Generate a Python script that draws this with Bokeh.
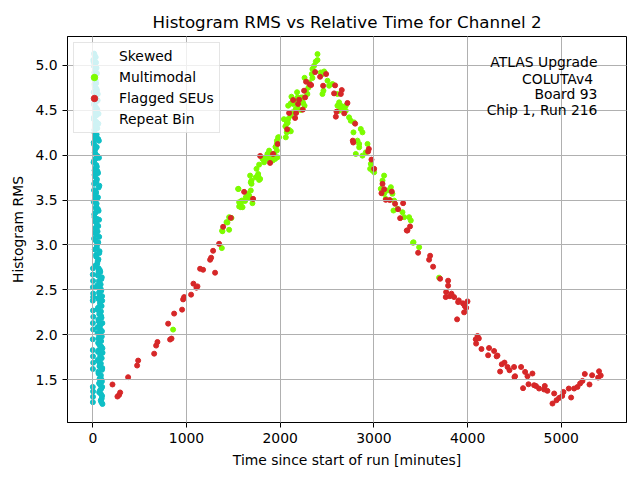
from bokeh.plotting import figure
from bokeh.models import Range1d, FixedTicker, Label, ColumnDataSource, PrintfTickFormatter
from bokeh.embed import file_html
from bokeh.resources import INLINE

# --- data (time in minutes, histogram RMS) ---

# unlabelled points in the first ~100 minutes (cyan column)
cyan_upper_t = [14, 31, 8, 22, 40, 17, 27, 11, 36, 20, 45, 9, 29, 52, 16, 34, 24, 61, 12, 38,
                26, 48, 18, 33, 57, 10, 42, 23, 30, 66, 15, 37, 25, 50, 19, 44, 28, 70, 13, 35,
                55, 21, 41, 32, 62, 16, 46, 27, 58, 39, 24, 68, 30, 49, 43, 72, 35, 60, 47, 64]
cyan_upper_v = [5.13, 5.09, 5.04, 5.01, 4.97, 4.92, 4.89, 4.85, 4.80, 4.77, 4.72, 4.70, 4.65, 4.61,
                4.58, 4.53, 4.49, 4.46, 4.42, 4.37, 4.34, 4.30, 4.25, 4.21, 4.18, 4.14, 4.09, 4.06,
                4.01, 3.97, 3.94, 3.89, 3.85, 3.82, 3.78, 3.73, 3.70, 3.66, 3.61, 3.58, 3.53, 3.50,
                3.46, 3.41, 3.38, 3.34, 3.29, 3.26, 3.21, 3.17, 3.14, 3.09, 3.05, 3.02, 2.97, 2.93,
                2.89, 2.84, 2.79, 2.73]
cyan_mid_t = [20, 6, 35, 12, 27, 44, 9, 31, 18, 39, 25, 53, 7, 33, 14, 47, 22, 36, 11, 59,
              28, 17, 41, 24, 65, 13, 34, 21, 50, 30, 8, 43, 19, 56, 26, 38, 15, 63, 32, 23,
              45, 10, 37, 54, 29, 18, 67, 40, 26, 51, 33, 14, 58, 44, 21, 69, 36, 52, 28, 62]
cyan_mid_v = [5.11, 5.06, 5.03, 4.99, 4.94, 4.91, 4.87, 4.83, 4.79, 4.74, 4.71, 4.68, 4.63, 4.59,
              4.56, 4.51, 4.47, 4.44, 4.40, 4.35, 4.32, 4.28, 4.23, 4.19, 4.16, 4.12, 4.08, 4.03,
              3.99, 3.96, 3.92, 3.87, 3.83, 3.80, 3.76, 3.71, 3.68, 3.64, 3.59, 3.55, 3.52, 3.48,
              3.43, 3.40, 3.36, 3.31, 3.28, 3.24, 3.19, 3.15, 3.12, 3.07, 3.03, 3.00, 2.95, 2.91,
              2.87, 2.82, 2.77, 2.71]
cyan_lower_t = [62, 80, 55, 91, 70, 48, 85, 66, 99, 58, 77, 94, 52, 73, 88, 60, 102, 68, 83, 50,
                96, 75, 57, 90, 64, 104, 79, 53, 86, 71, 98, 61, 82, 93, 67, 100, 76, 87, 95, 103]
cyan_lower_v = [2.74, 2.70, 2.66, 2.62, 2.58, 2.55, 2.51, 2.47, 2.43, 2.40, 2.36, 2.32, 2.28, 2.25,
                2.21, 2.17, 2.13, 2.10, 2.06, 2.02, 1.98, 1.95, 1.91, 1.87, 1.83, 1.80, 1.76, 1.72,
                1.68, 1.65, 1.61, 1.57, 1.53, 1.50, 1.46, 1.42, 1.38, 1.34, 1.29, 1.23]
cyan_lower2_t = [75, 58, 96, 66, 84, 51, 90, 72, 61, 100, 79, 55, 87, 69, 93, 63, 81, 49, 98, 74,
                 59, 89, 70, 103, 56, 83, 95, 65, 77, 101, 60, 86, 72, 97, 81, 90, 68, 99, 85, 92]
cyan_lower2_v = [2.72, 2.68, 2.64, 2.60, 2.56, 2.53, 2.49, 2.45, 2.41, 2.38, 2.34, 2.30, 2.26, 2.23,
                 2.19, 2.15, 2.11, 2.08, 2.04, 2.00, 1.96, 1.93, 1.89, 1.85, 1.81, 1.78, 1.74, 1.70,
                 1.66, 1.63, 1.59, 1.55, 1.51, 1.48, 1.44, 1.40, 1.36, 1.32, 1.27, 1.25]
cyan_start_t = [2, 0, 3, 1, 4, 0, 2, 5, 1, 3, 0, 2, 4, 1, 0, 3, 2, 1, 4, 0]
cyan_start_v = [2.74, 2.67, 2.60, 2.53, 2.46, 2.38, 2.27, 2.20, 2.13, 2.06, 1.83, 1.76, 1.69, 1.62,
                1.42, 1.37, 1.31, 1.25, 2.42, 1.95]

# skewed / repeat bin: no points in this run
skewed_t = []
skewed_v = []
repeat_t = []
repeat_v = []

# multimodal
multi_t = [857, 1377, 1380, 1455, 1437, 1455, 1562, 1384, 1427, 1480, 1580, 1562, 1704, 1555,
           1668, 1650, 1625, 1686, 1679, 1740, 1775, 1765, 1747, 1775, 1811, 1835, 1864, 1882,
           1880, 1900, 1920, 1988, 1950, 1965, 2060, 2113, 2055, 2040, 2080, 2138, 2185, 2220,
           2245, 2260, 1551, 1590, 1580, 1598, 1633, 1651, 1668, 1686, 1694, 1694, 1764, 1786,
           1828, 1846, 1871, 1935, 1964, 1971, 1946, 1978, 1964, 1953, 2070, 2095, 2070, 2085,
           2113, 2131, 2085, 2113, 2149, 2238, 2166, 2185, 2220, 2273, 2302, 2308, 2344, 2337,
           2344, 2362, 2380, 2398, 2398, 2433, 2451, 2469, 2505, 2451, 2462, 2522, 2558, 2611,
           2629, 2647, 2682, 2700, 2735, 2753, 2789, 2782, 2860, 2878, 2825, 2843, 2807, 2878,
           2914, 2932, 2843, 2967, 2985, 3003, 2960, 3092, 3074, 3109, 3127, 3145, 3181, 3198,
           3216, 3209, 3252, 3305, 3323, 3376, 3394, 3423, 3483, 3418, 3696, 3109, 2120, 2180,
           2230, 2290, 2260, 2611, 2647, 2629, 2700]
multi_v = [2.058, 2.965, 3.158, 3.169, 3.250, 3.309, 3.428, 3.153, 3.254, 3.300, 3.420, 3.476,
           3.465, 3.624, 3.550, 3.520, 3.490, 3.698, 3.772, 3.753, 3.724, 3.790, 3.847, 3.894,
           3.958, 3.960, 4.013, 4.050, 3.950, 3.980, 3.940, 4.198, 4.090, 4.160, 4.198, 4.265,
           4.320, 4.400, 4.360, 4.570, 4.640, 4.640, 4.580, 4.860, 3.624, 3.494, 3.458, 3.420,
           3.531, 3.569, 3.531, 3.606, 3.680, 3.717, 3.772, 3.735, 3.920, 3.976, 4.013, 4.013,
           4.050, 3.976, 3.958, 4.198, 4.124, 4.094, 4.253, 4.280, 4.353, 4.402, 4.439, 4.476,
           4.550, 4.576, 4.598, 4.642, 4.513, 4.531, 4.502, 4.717, 4.753, 4.809, 4.858, 4.902,
           4.958, 4.994, 5.042, 5.058, 5.124, 4.920, 4.902, 4.931, 4.828, 4.680, 4.717, 4.772,
           4.791, 4.680, 4.587, 4.550, 4.513, 4.550, 4.420, 4.383, 4.364, 4.253, 4.291, 4.253,
           4.161, 4.087, 4.013, 3.994, 4.031, 4.124, 4.124, 3.902, 3.828, 3.809, 3.847, 3.717,
           3.625, 3.569, 3.513, 3.606, 3.643, 3.569, 3.494, 3.383, 3.402, 3.364, 3.309, 3.309,
           3.272, 3.030, 2.975, 3.024, 2.636, 3.772, 4.650, 4.700, 4.600, 4.680, 4.550, 4.550,
           4.531, 4.494, 4.494]

# flagged SEUs
seu_t = [210, 263, 280, 292, 377, 473, 484, 655, 676, 690, 825, 840, 804, 868, 953, 964, 975,
         1049, 1074, 1106, 1117, 1145, 1177, 1305, 1252, 1263, 1284, 1348, 1391, 1473,
         1615, 1711, 1892, 1786, 1924, 1974, 2074, 2159, 2095, 2170, 2241, 2138, 2191, 2202,
         2266, 2255, 2276, 2316, 2373, 2426, 2490, 2458, 2330,
         2586, 2575, 2657, 2647, 2718, 2601, 2594, 2683, 2800, 2775, 2780, 2946, 2938, 2974,
         3003, 3092, 3081, 3110, 3191, 3127, 3170, 3226, 3258, 3312, 3280, 3358, 3386, 3351,
         3472, 3600, 3589, 3632, 3707, 3792, 3792, 3771, 3767, 3810, 3828, 3856, 3906, 3899,
         3963, 3888, 3950, 3970, 3999, 3985,
         4106, 4087, 4091, 4120, 4148, 4229, 4219, 4283, 4319, 4310, 4365, 4394, 4426, 4447,
         4496, 4347, 4507, 4500, 4571, 4614, 4639, 4692, 4650, 4592, 4710, 4730, 4763, 4824,
         4817, 4852, 4924, 4949, 4906, 4977, 5023, 5010, 5080, 5105, 5137, 5173, 5201, 5226,
         5301, 5251, 5329, 5403, 5421, 5393]
seu_v = [1.447, 1.313, 1.330, 1.358, 1.528, 1.658, 1.713, 1.790, 1.880, 1.920, 1.947, 1.958,
         2.124, 2.236, 2.280, 2.394, 2.420, 2.447, 2.569, 2.524, 2.539, 2.735, 2.724, 2.691,
         2.835, 2.858, 2.935, 3.013, 3.202, 3.302,
         3.591, 3.513, 3.913, 3.991, 4.013, 4.124, 4.287, 4.413, 4.469, 4.469, 4.506, 4.613,
         4.569, 4.617, 4.642, 4.717, 4.817, 4.787, 4.924, 4.872, 4.902, 4.772, 4.780,
         4.776, 4.687, 4.724, 4.680, 4.580, 4.483, 4.428, 4.465, 4.350, 4.161, 4.140, 4.069,
         4.039, 3.950, 3.847, 3.680, 3.576, 3.620, 3.594, 3.502, 3.500, 3.458, 3.398, 3.465,
         3.298, 3.161, 3.206, 3.161, 2.913, 2.880, 2.836, 2.758, 2.624, 2.602, 2.547, 2.476,
         2.420, 2.430, 2.458, 2.420, 2.383, 2.364, 2.250, 2.172, 2.350, 2.320, 2.372, 2.300,
         1.987, 1.950, 1.902, 1.960, 1.842, 1.853, 1.772, 1.820, 1.769, 1.760, 1.672, 1.691,
         1.642, 1.606, 1.642, 1.591, 1.539, 1.530, 1.642, 1.587, 1.539, 1.569, 1.450, 1.406,
         1.439, 1.430, 1.402, 1.431, 1.391, 1.376, 1.347, 1.272, 1.235, 1.298, 1.364, 1.320,
         1.402, 1.302, 1.402, 1.420, 1.458, 1.487, 1.447, 1.564, 1.550, 1.594, 1.547, 1.524]

x_ticks = [0, 1000, 2000, 3000, 4000, 5000]
y_ticks = [1.5, 2.0, 2.5, 3.0, 3.5, 4.0, 4.5, 5.0]
info_lines = ["ATLAS Upgrade", "COLUTAv4 ", "Board 93", "Chip 1, Run 216"]

FONT = "DejaVu Sans"
CYAN = "#0fbfc6"

# bokeh's page template has no body margin, so the figure fills the window
p = figure(width=640, height=480, output_backend="svg", toolbar_location=None,
           x_range=Range1d(-270, 5696), y_range=Range1d(1.024, 5.32),
           title="Histogram RMS vs Relative Time for Channel 2",
           x_axis_label="Time since start of run [minutes]", y_axis_label="Histogram RMS",
           min_border_left=67, min_border_right=14, min_border_top=36, min_border_bottom=58)

p.title.align = "center"
p.title.text_font = FONT
p.title.text_font_size = "16.7px"
p.title.text_font_style = "normal"
p.title.text_color = "black"

for ax in (p.xaxis[0], p.yaxis[0]):
    ax.axis_label_text_font = FONT
    ax.axis_label_text_font_size = "13.9px"
    ax.axis_label_text_font_style = "normal"
    ax.axis_label_text_color = "black"
    ax.major_label_text_font = FONT
    ax.major_label_text_font_size = "13.9px"
    ax.major_label_text_color = "black"
    ax.major_tick_in = 0
    ax.major_tick_out = 5
    ax.minor_tick_line_color = None
    ax.axis_line_color = "black"
    ax.major_tick_line_color = "black"
    ax.axis_label_standoff = 6
p.xaxis[0].ticker = FixedTicker(ticks=x_ticks)
p.yaxis[0].ticker = FixedTicker(ticks=y_ticks)
p.yaxis[0].formatter = PrintfTickFormatter(format="%.1f")

p.outline_line_color = "black"
p.outline_line_alpha = 1.0
p.grid.grid_line_color = "#b0b0b0"
p.grid.grid_line_width = 1
p.grid.level = "guide"   # matplotlib draws the grid over the scatter

# scatter layers
for tt, vv in ((cyan_upper_t, cyan_upper_v), (cyan_mid_t, cyan_mid_v),
               (cyan_lower_t, cyan_lower_v), (cyan_lower2_t, cyan_lower2_v),
               (cyan_start_t, cyan_start_v)):
    p.scatter(tt, vv, size=5, color=CYAN)
p.scatter(x="t", y="v", source=ColumnDataSource(dict(t=skewed_t, v=skewed_v)),
          size=5, color="yellow", legend_label="Skewed")
p.scatter(multi_t, multi_v, size=5, color="lawngreen", legend_label="Multimodal")
p.scatter(seu_t, seu_v, size=5, color="#d62728", legend_label="Flagged SEUs")
p.scatter(x="t", y="v", source=ColumnDataSource(dict(t=repeat_t, v=repeat_v)),
          size=5, color="purple", legend_label="Repeat Bin")

leg = p.legend[0]
leg.location = "top_left"
leg.margin = 6
leg.padding = 5
leg.spacing = 5
leg.glyph_width = 30
leg.glyph_height = 16
leg.label_height = 16
leg.label_standoff = 10
leg.label_text_font = FONT
leg.label_text_font_size = "13.9px"
leg.label_text_color = "black"
leg.border_line_color = "#cccccc"
leg.background_fill_alpha = 0.8

# run info, top right
info_y = [5.039, 4.850, 4.678, 4.506]
for txt, yy in zip(info_lines, info_y):
    p.add_layout(Label(x=5386, y=yy, text=txt, text_align="right", text_baseline="middle",
                       text_font=FONT, text_font_size="13.9px", text_color="black"))

open("out.html", "w").write(file_html(p, INLINE))
